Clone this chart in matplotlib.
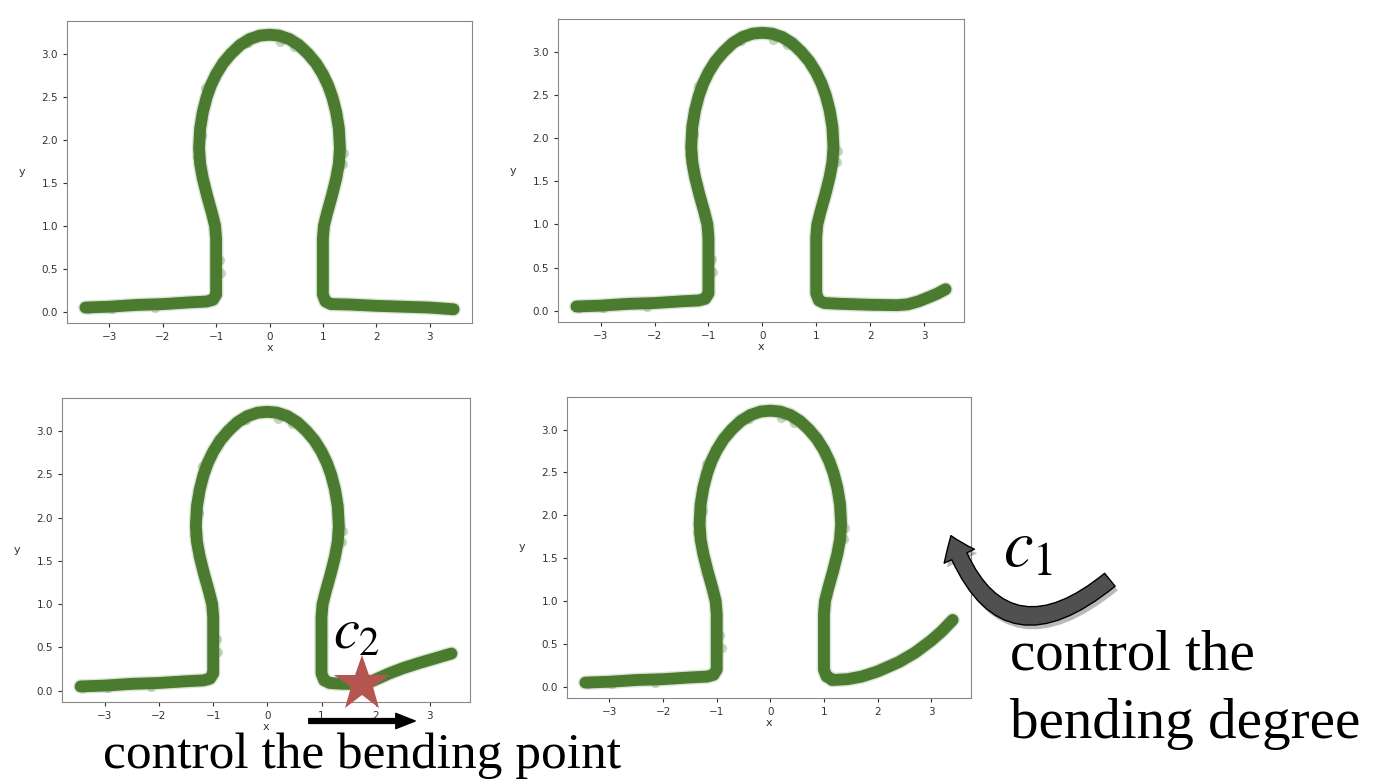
import matplotlib

matplotlib.use("Agg")
import matplotlib.pyplot as plt
from matplotlib.patches import FancyArrowPatch
import matplotlib.patheffects as pe

W, H = 1394, 780
GREEN = "#4a7b2f"
STAR_RED = "#b4564f"

# shared omega body: left tail, neck, round head, right neck down to the corner
body_x = [-3.45, -3.0, -2.5, -2.0, -1.5, -1.18, -1.06, -1.0, -1.0, -1.0, -1.02,
          -1.08, -1.17, -1.25, -1.3, -1.32, -1.3, -1.25, -1.18, -1.1, -1.0, -0.87,
          -0.72, -0.55, -0.37, -0.18, 0.0, 0.18, 0.37, 0.55, 0.72, 0.87, 1.0, 1.1,
          1.18, 1.25, 1.3, 1.32, 1.3, 1.25, 1.17, 1.08, 1.02, 1.0, 1.0, 1.0, 1.05, 1.15]
body_y = [0.05, 0.06, 0.08, 0.09, 0.11, 0.12, 0.14, 0.2, 0.5, 0.85, 1.0,
          1.15, 1.35, 1.55, 1.72, 1.9, 2.13, 2.32, 2.49, 2.63, 2.76, 2.89,
          3.0, 3.1, 3.17, 3.21, 3.22, 3.21, 3.17, 3.1, 3.0, 2.89, 2.76, 2.63,
          2.49, 2.32, 2.13, 1.9, 1.72, 1.55, 1.35, 1.15, 1.0, 0.85, 0.5, 0.2, 0.12, 0.09]

# right tails, one per panel
tail1_x = [1.15, 1.5, 2.0, 2.5, 3.0, 3.45]
tail1_y = [0.09, 0.085, 0.07, 0.06, 0.05, 0.03]
tail2_x = [1.15, 1.5, 2.0, 2.5, 2.7, 2.9, 3.1, 3.25, 3.4]
tail2_y = [0.09, 0.08, 0.07, 0.065, 0.075, 0.11, 0.16, 0.2, 0.25]
tail3_x = [1.15, 1.4, 1.7, 1.85, 2.0, 2.25, 2.5, 2.8, 3.1, 3.4]
tail3_y = [0.09, 0.08, 0.08, 0.09, 0.13, 0.2, 0.26, 0.32, 0.375, 0.43]
tail4_x = [1.15, 1.44, 1.7, 2.0, 2.4, 2.7, 3.0, 3.2, 3.4]
tail4_y = [0.08, 0.09, 0.12, 0.18, 0.29, 0.4, 0.54, 0.65, 0.78]

# stray samples sitting just off the band
stray_x = [-0.4, 0.2, 0.45, -1.2, -1.26, -1.36, 1.4, 1.38, -0.93, -0.91, -2.95, -2.15, -3.4]
stray_y = [3.12, 3.14, 3.08, 2.6, 2.05, 1.8, 1.85, 1.72, 0.6, 0.45, 0.03, 0.04, 0.03]

# bending point marker (panel 3)
star_x = [1.75]
star_y = [0.08]

AX_BOXES = [(67, 472, 21, 323), (558, 964, 19, 322), (62, 470, 398, 702), (567, 971, 397, 698)]
TAILS = [(tail1_x, tail1_y), (tail2_x, tail2_y), (tail3_x, tail3_y), (tail4_x, tail4_y)]


def fig_xy(px, py):
    return px / W, 1 - py / H


def draw_panel(fig, box, tail):
    left, right, top, bottom = box
    ax = fig.add_axes([left / W, 1 - bottom / H, (right - left) / W, (bottom - top) / H])
    xs = body_x + tail[0]
    ys = body_y + tail[1]
    # soft halo then the dense core of the sample band
    ax.plot(xs, ys, color=GREEN, lw=10.5, alpha=0.2, solid_capstyle="round", solid_joinstyle="round")
    ax.plot(xs, ys, color=GREEN, lw=8.5, solid_capstyle="round", solid_joinstyle="round")
    ax.scatter(stray_x, stray_y, s=45, color=GREEN, alpha=0.3, linewidths=0)
    ax.set_xlabel("x", fontsize=8, color="#333333", labelpad=1)
    ax.set_ylabel("y", fontsize=8, color="#333333", rotation=0, labelpad=14, va="center")
    ax.tick_params(labelsize=7.5, colors="#333333", length=3)
    for sp in ax.spines.values():
        sp.set_color("#888888")
    return ax


def main() -> None:
    plt.rcParams["mathtext.fontset"] = "stix"
    fig = plt.figure(figsize=(W / 100, H / 100), dpi=100)

    axes = [draw_panel(fig, box, tail) for box, tail in zip(AX_BOXES, TAILS)]
    axes[2].plot(star_x, star_y, marker="*", markersize=42, color=STAR_RED,
                 markeredgewidth=0, clip_on=False, zorder=5)

    serif = "Liberation Serif"
    fig.text(*fig_xy(333, 648), r"$c_2$", fontsize=42, va="baseline", ha="left", zorder=6)
    fig.text(*fig_xy(1003, 566), r"$c_1$", fontsize=48, va="baseline", ha="left")
    fig.text(*fig_xy(103, 768), "control the bending point", fontsize=37,
             family=serif, va="baseline", ha="left")
    fig.text(*fig_xy(1010, 670), "control the", fontsize=41, family=serif, va="baseline", ha="left")
    fig.text(*fig_xy(1010, 738), "bending degree", fontsize=41, family=serif, va="baseline", ha="left")

    straight = FancyArrowPatch(fig_xy(306, 721), fig_xy(418, 721), transform=fig.transFigure,
                               arrowstyle="simple,head_length=14,head_width=11,tail_width=3.5",
                               mutation_scale=1, color="black", zorder=7)
    fig.patches.append(straight)

    curved = FancyArrowPatch(fig_xy(1112, 578), fig_xy(950, 533), transform=fig.transFigure,
                             connectionstyle="arc3,rad=-0.72",
                             arrowstyle="simple,head_length=16,head_width=24,tail_width=12",
                             mutation_scale=1, facecolor="#505050", edgecolor="black", lw=1,
                             path_effects=[pe.withSimplePatchShadow(offset=(2, -3), alpha=0.3)])
    fig.patches.append(curved)

    fig.savefig("out.png", dpi=100)


if __name__ == "__main__":
    main()
